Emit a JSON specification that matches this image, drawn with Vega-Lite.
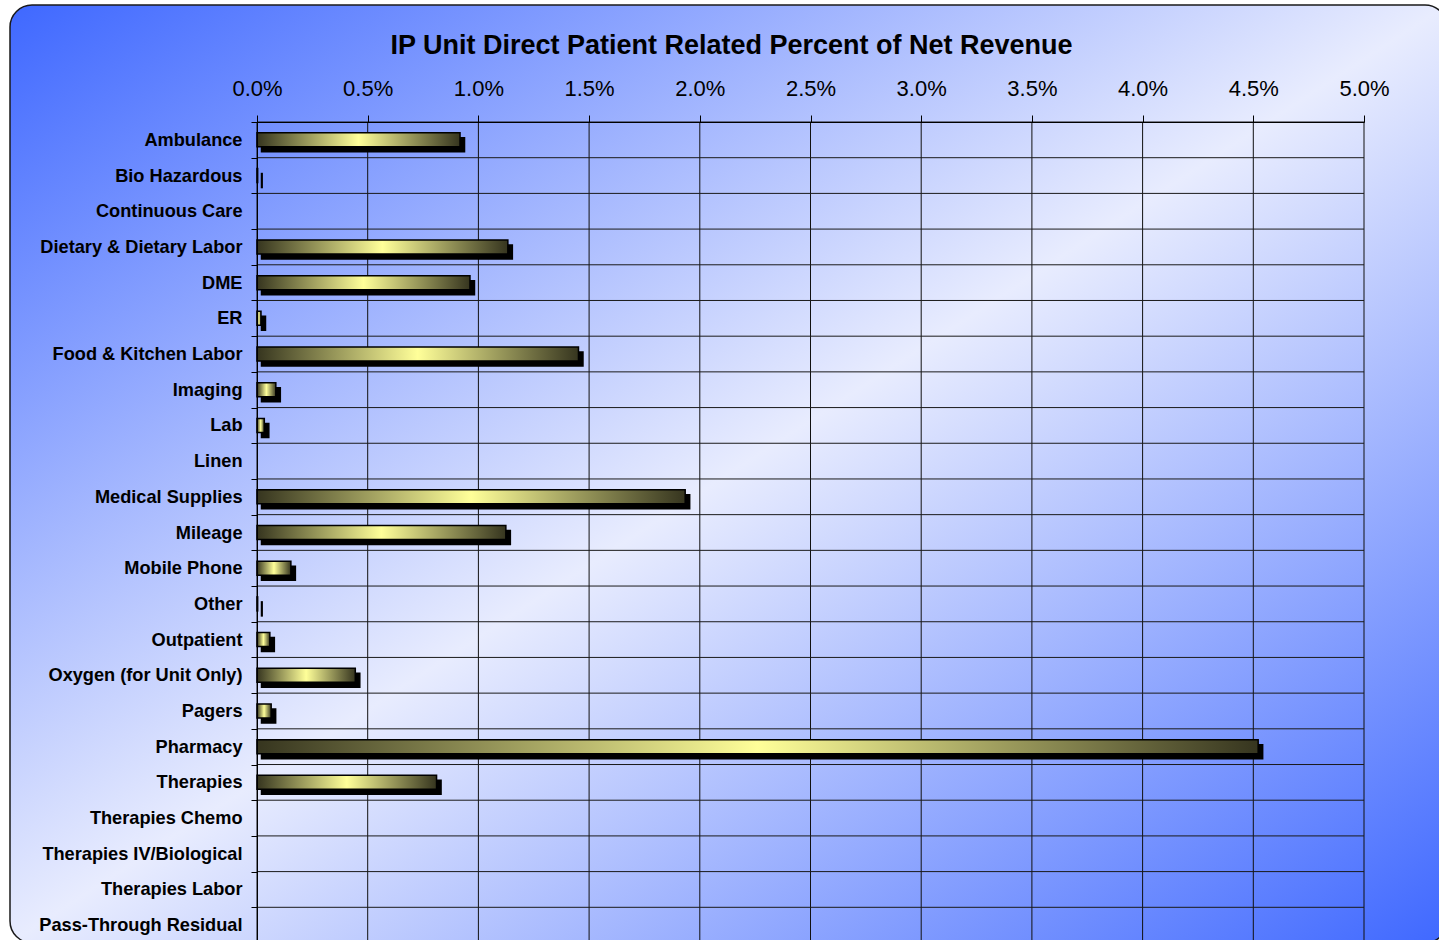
{
  "$schema": "https://vega.github.io/schema/vega-lite/v6.json",
  "width": 1107,
  "height": 821,
  "autosize": {"type": "none"},
  "padding": {"left": 257, "top": 122, "right": 75, "bottom": 0},
  "background": "#ffffff",
  "title": {
    "text": "IP Unit Direct Patient Related Percent of Net Revenue",
    "font": "Liberation Sans",
    "fontSize": 27,
    "fontWeight": "bold",
    "color": "#000000",
    "anchor": "middle",
    "frame": "group",
    "offset": 0,
    "baseline": "alphabetic",
    "dx": -79,
    "dy": 77
  },
  "datasets": {
    "costs": [
      {"item": "Ambulance", "pct": 0.00917},
      {"item": "Bio Hazardous", "pct": 0.00003},
      {"item": "Continuous Care", "pct": 0},
      {"item": "Dietary & Dietary Labor", "pct": 0.01133},
      {"item": "DME", "pct": 0.00962},
      {"item": "ER", "pct": 0.00018},
      {"item": "Food & Kitchen Labor", "pct": 0.01452},
      {"item": "Imaging", "pct": 0.00085},
      {"item": "Lab", "pct": 0.00033},
      {"item": "Linen", "pct": 0},
      {"item": "Medical Supplies", "pct": 0.01934},
      {"item": "Mileage", "pct": 0.01124},
      {"item": "Mobile Phone", "pct": 0.00153},
      {"item": "Other", "pct": 0.00003},
      {"item": "Outpatient", "pct": 0.00058},
      {"item": "Oxygen (for Unit Only)", "pct": 0.00444},
      {"item": "Pagers", "pct": 0.00064},
      {"item": "Pharmacy", "pct": 0.04522},
      {"item": "Therapies", "pct": 0.00811},
      {"item": "Therapies Chemo", "pct": 0},
      {"item": "Therapies IV/Biological", "pct": 0},
      {"item": "Therapies Labor", "pct": 0},
      {"item": "Pass-Through Residual", "pct": 0}
    ],
    "ticks": [
      {"pct": 0}, {"pct": 0.005}, {"pct": 0.01}, {"pct": 0.015}, {"pct": 0.02},
      {"pct": 0.025}, {"pct": 0.03}, {"pct": 0.035}, {"pct": 0.04}, {"pct": 0.045}, {"pct": 0.05}
    ],
    "panel": [{"panel": "chart area"}]
  },
  "layer": [
    {
      "data": {"name": "panel"},
      "mark": {
        "type": "rect",
        "xOffset": -247,
        "x2Offset": 83,
        "yOffset": -117,
        "y2Offset": 60,
        "cornerRadius": 22,
        "stroke": "#1a1a1a",
        "strokeWidth": 1.5,
        "fill": {
          "gradient": "linear",
          "x1": 0, "y1": 0, "x2": 1, "y2": 1,
          "stops": [
            {"offset": 0, "color": "#3f68ff"},
            {"offset": 0.5, "color": "#e8ecfe"},
            {"offset": 1, "color": "#3f68ff"}
          ]
        }
      },
      "encoding": {
        "x": {"datum": 0, "type": "quantitative"},
        "x2": {"datum": 0.05}
      }
    },
    {
      "data": {"name": "ticks"},
      "mark": {"type": "rule", "color": "#111111", "strokeWidth": 1},
      "encoding": {
        "x": {"field": "pct", "type": "quantitative"}
      }
    },
    {
      "data": {"name": "costs"},
      "mark": {"type": "rule", "color": "#1a1a1a", "strokeWidth": 1},
      "encoding": {
        "y": {"field": "item", "type": "nominal", "bandPosition": 0}
      }
    },
    {
      "data": {"name": "costs"},
      "transform": [{"filter": "datum.pct > 0"}],
      "mark": {
        "type": "bar",
        "size": 14,
        "color": "#000000",
        "stroke": "#000000",
        "strokeWidth": 1.5,
        "xOffset": 4.5,
        "x2Offset": 4.5,
        "yOffset": 5
      },
      "encoding": {
        "x": {"field": "pct", "type": "quantitative"},
        "y": {"field": "item", "type": "nominal"}
      }
    },
    {
      "data": {"name": "costs"},
      "transform": [{"filter": "datum.pct > 0"}],
      "mark": {
        "type": "bar",
        "size": 14,
        "stroke": "#000000",
        "strokeWidth": 1.5,
        "fill": {
          "gradient": "linear",
          "x1": 0, "y1": 0, "x2": 1, "y2": 0,
          "stops": [
            {"offset": 0, "color": "#36351f"},
            {"offset": 0.5, "color": "#ffff99"},
            {"offset": 1, "color": "#36351f"}
          ]
        }
      },
      "encoding": {
        "x": {
          "field": "pct",
          "type": "quantitative",
          "scale": {"domain": [0, 0.05], "nice": false, "zero": true},
          "axis": {
            "orient": "top",
            "title": null,
            "values": [0, 0.005, 0.01, 0.015, 0.02, 0.025, 0.03, 0.035, 0.04, 0.045, 0.05],
            "format": ".1%",
            "labelFont": "Liberation Sans",
            "labelFontSize": 22,
            "labelColor": "#000000",
            "labelBaseline": "alphabetic",
            "labelPadding": 20,
            "labelFlush": false,
            "labelOverlap": false,
            "tickSize": 7,
            "tickColor": "#000000",
            "tickWidth": 1,
            "domainColor": "#000000",
            "domainWidth": 1,
            "grid": false,
            "zindex": 1
          }
        },
        "y": {
          "field": "item",
          "type": "nominal",
          "sort": null,
          "scale": {
            "domain": ["Ambulance", "Bio Hazardous", "Continuous Care", "Dietary & Dietary Labor", "DME", "ER", "Food & Kitchen Labor", "Imaging", "Lab", "Linen", "Medical Supplies", "Mileage", "Mobile Phone", "Other", "Outpatient", "Oxygen (for Unit Only)", "Pagers", "Pharmacy", "Therapies", "Therapies Chemo", "Therapies IV/Biological", "Therapies Labor", "Pass-Through Residual"],
            "paddingInner": 0,
            "paddingOuter": 0
          },
          "axis": {
            "title": null,
            "labelFont": "Liberation Sans",
            "labelFontSize": 18.2,
            "labelFontWeight": "bold",
            "labelColor": "#000000",
            "labelPadding": 9,
            "labelOffset": 0.5,
            "labelLimit": 400,
            "tickBand": "extent",
            "tickSize": 6,
            "tickColor": "#000000",
            "domainColor": "#000000",
            "grid": false,
            "zindex": 1
          }
        }
      }
    }
  ],
  "config": {
    "view": {"stroke": null},
    "font": "Liberation Sans"
  }
}
